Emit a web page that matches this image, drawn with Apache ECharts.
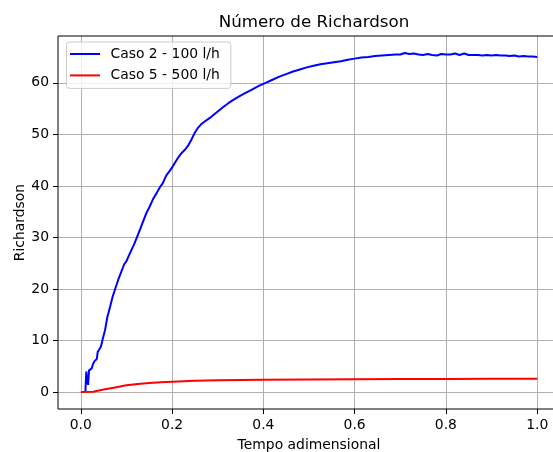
<!DOCTYPE html>
<html>
<head>
<meta charset="utf-8">
<script src="https://cdn.jsdelivr.net/npm/echarts@6/dist/echarts.min.js"></script>
<style>html,body{margin:0;padding:0;background:#fff;}#chart{width:553px;height:452px;}</style>
</head>
<body>
<div id="chart"></div>
<script>
const titleText = 'Número de Richardson';
const xLabel = 'Tempo adimensional';
const yLabel = 'Richardson';
const seriesNames = ['Caso 2 - 100 l/h', 'Caso 5 - 500 l/h'];

const case2X = [0.010,0.012,0.014,0.016,0.018,0.021,0.024,0.027,0.030,0.033,0.035,0.037,0.040,0.044,0.048,0.053,0.058,0.064,0.070,0.076,0.082,0.089,0.095,0.100,0.106,0.111,0.117,0.122,0.130,0.137,0.144,0.151,0.158,0.166,0.173,0.180,0.187,0.194,0.200,0.207,0.214,0.221,0.228,0.235,0.242,0.249,0.256,0.263,0.270,0.278,0.286,0.294,0.302,0.312,0.324,0.336,0.348,0.360,0.375,0.390,0.405,0.420,0.435,0.450,0.465,0.480,0.495,0.510,0.525,0.540,0.555,0.570,0.585,0.600,0.615,0.630,0.645,0.660,0.675,0.690,0.700,0.710,0.720,0.730,0.740,0.750,0.760,0.770,0.780,0.790,0.800,0.810,0.820,0.830,0.840,0.850,0.860,0.870,0.880,0.890,0.900,0.910,0.920,0.930,0.940,0.950,0.960,0.970,0.980,0.990,1.000];
const case2Y = [0.0,4.0,2.0,1.4,4.2,4.4,4.6,5.5,6.0,5.8,6.4,7.8,8.2,8.8,10.3,12.0,14.5,16.5,18.6,20.2,21.8,23.4,24.8,25.4,26.6,27.6,28.7,29.8,31.6,33.2,34.8,36.0,37.4,38.6,39.7,40.6,42.0,42.8,43.6,44.6,45.6,46.4,47.0,47.8,48.9,50.2,51.2,51.9,52.4,52.9,53.4,54.0,54.6,55.3,56.1,56.8,57.4,58.0,58.7,59.4,60.0,60.6,61.2,61.7,62.2,62.6,63.0,63.3,63.6,63.8,64.0,64.2,64.5,64.7,64.9,65.0,65.2,65.3,65.4,65.5,65.5,65.8,65.6,65.7,65.5,65.4,65.6,65.4,65.3,65.6,65.5,65.5,65.7,65.4,65.7,65.4,65.4,65.4,65.3,65.4,65.3,65.4,65.3,65.3,65.2,65.3,65.1,65.2,65.1,65.1,65.0];

const case5X = [0.000,0.027,0.050,0.075,0.100,0.125,0.150,0.175,0.200,0.250,0.300,0.400,0.500,0.600,0.700,0.800,0.900,1.000];
const case5Y = [0.0,0.05,0.5,0.9,1.3,1.55,1.75,1.9,2.0,2.2,2.3,2.4,2.45,2.5,2.55,2.55,2.6,2.6];

const xTickMin = 0, xTickMax = 1, xTickStep = 0.2;
const yTickMin = 0, yTickMax = 60, yTickStep = 10;

const zip = (xs, ys) => xs.map((x, i) => [x, ys[i]]);
const FONT = 'DejaVu Sans';

// data ranges with matplotlib-like 5% margins
const xMin = -0.05, xMax = 1.05;
const yDataMax = Math.max(...case2Y), yDataMin = 0;
const yPad = (yDataMax - yDataMin) * 0.05;
const yMin = yDataMin - yPad, yMax = yDataMax + yPad;

// plot frame in px
const L = 58, T = 36, W = 502, H = 373;
const xPx = v => L + (v - xMin) / (xMax - xMin) * W;
const yPx = v => T + H - (v - yMin) / (yMax - yMin) * H;

const chart = echarts.init(document.getElementById('chart'), null, {renderer: 'canvas'});
const tickLabelStyle = {color: '#000', fontFamily: FONT, fontSize: 13.9};
const nameStyle = {fontFamily: FONT, fontSize: 13.9, color: '#000'};
const hidden = {axisLine: {show: false}, axisTick: {show: false}, axisLabel: {show: false}, splitLine: {show: false}};

chart.setOption({
  animation: false,
  backgroundColor: '#fff',
  title: {
    text: titleText, left: (L + W / 2), top: 9, textAlign: 'center',
    textStyle: {fontFamily: FONT, fontSize: 16.7, fontWeight: 'normal', color: '#000'}
  },
  legend: {
    left: 66.5, top: 42, orient: 'vertical',
    data: seriesNames,
    icon: 'path://M0,0 L30,0 L30,2 L0,2 Z',
    itemWidth: 30, itemHeight: 2, itemGap: 5.4,
    padding: [4, 11, 5, 3.5],
    backgroundColor: 'rgba(255,255,255,0.8)',
    borderColor: '#cccccc', borderWidth: 1, borderRadius: 3,
    textStyle: {fontFamily: FONT, fontSize: 13.9, color: '#000', lineHeight: 16, padding: [0, 0, 0, 5.5]}
  },
  grid: [
    {left: L, top: T, width: W, height: H, show: true, borderColor: '#000', borderWidth: 1,
      backgroundColor: 'transparent', z: 3, outerBoundsMode: 'none', containLabel: false},
    {left: xPx(xTickMin), top: T, width: xPx(xTickMax) - xPx(xTickMin), height: H, outerBoundsMode: 'none', containLabel: false},
    {left: L, top: yPx(yTickMax), width: W, height: yPx(yTickMin) - yPx(yTickMax), outerBoundsMode: 'none', containLabel: false}
  ],
  xAxis: [
    {gridIndex: 0, type: 'value', min: xMin, max: xMax, ...hidden,
      name: xLabel, nameLocation: 'middle', nameGap: 29, nameTextStyle: nameStyle},
    {gridIndex: 1, type: 'value', min: xTickMin, max: xTickMax, interval: xTickStep,
      axisLine: {show: false},
      axisTick: {show: true, length: 5, lineStyle: {color: '#000', width: 1}},
      axisLabel: {margin: 9, formatter: v => v.toFixed(1), ...tickLabelStyle},
      splitLine: {show: true, lineStyle: {color: '#b0b0b0', width: 1}}
    },
    {gridIndex: 2, type: 'value', min: 0, max: 1, show: false}
  ],
  yAxis: [
    {gridIndex: 0, type: 'value', min: yMin, max: yMax, ...hidden,
      name: yLabel, nameLocation: 'middle', nameGap: 31, nameRotate: 90, nameTextStyle: nameStyle},
    {gridIndex: 1, type: 'value', min: 0, max: 1, show: false},
    {gridIndex: 2, type: 'value', min: yTickMin, max: yTickMax, interval: yTickStep,
      axisLine: {show: false},
      axisTick: {show: true, length: 5, lineStyle: {color: '#000', width: 1}},
      axisLabel: {margin: 9, ...tickLabelStyle},
      splitLine: {show: true, lineStyle: {color: '#b0b0b0', width: 1}}
    }
  ],
  series: [
    {name: seriesNames[0], type: 'line', xAxisIndex: 0, yAxisIndex: 0, data: zip(case2X, case2Y),
      showSymbol: false, symbol: 'none', lineStyle: {color: '#0000ff', width: 2}, itemStyle: {color: '#0000ff'}, z: 5},
    {name: seriesNames[1], type: 'line', xAxisIndex: 0, yAxisIndex: 0, data: zip(case5X, case5Y),
      showSymbol: false, symbol: 'none', lineStyle: {color: '#ff0000', width: 2}, itemStyle: {color: '#ff0000'}, z: 5}
  ]
});
</script>
</body>
</html>
